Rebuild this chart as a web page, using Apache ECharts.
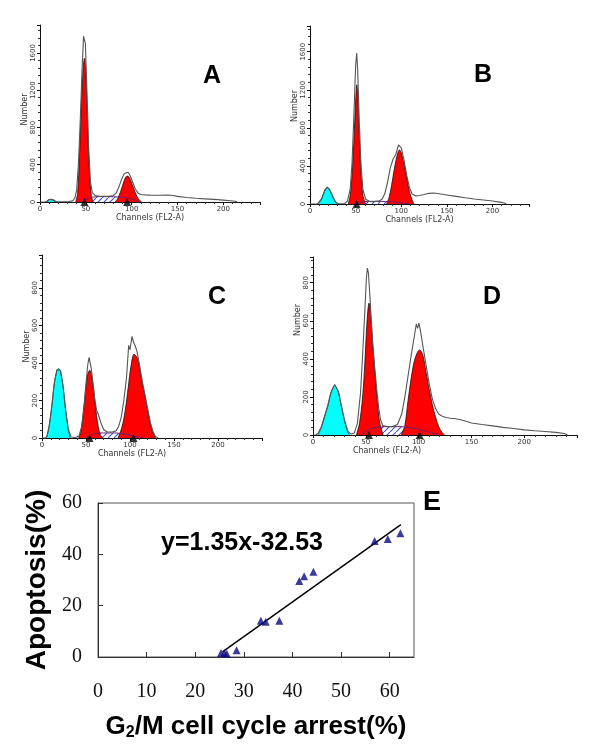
<!DOCTYPE html>
<html><head><meta charset="utf-8">
<script src="https://cdn.jsdelivr.net/npm/echarts@6/dist/echarts.min.js"></script>
<style>html,body{margin:0;padding:0;background:#fff}#c{width:600px;height:756px}</style>
</head><body><div id="c"></div><script>
// ---------- Panel A (channel, count) ----------
const A_cyan = [[7,0],[9,18],[11,30],[13,28],[15,14],[17,0]];
const A_g1 = [[39,0],[41,90],[43,480],[45,1000],[47,1420],[48.5,1543],[50,1380],[52,800],[54,300],[56,70],[58,0]];
const A_g2 = [[82,0],[85,40],[88,115],[91,205],[93,258],[95,279],[97,268],[99,228],[102,150],[105,75],[108,25],[111,0]];
const A_s = [[45,0],[50,25],[55,45],[60,55],[70,58],[80,56],[90,50],[100,35],[105,15],[110,0]];
const A_raw = [[0,0],[6,0],[8,8],[10,26],[12,32],[14,26],[16,10],[18,2],[25,3],[32,5],[36,15],[38,40],[40,130],[42,420],[44,900],[46,1450],[47.5,1780],[48.5,1794],[49.5,1700],[51,1250],[53,600],[55,220],[57,100],[60,70],[65,62],[70,60],[75,62],[80,68],[83,95],[86,160],[89,245],[92,305],[94,326],[96,320],[98,290],[101,215],[104,140],[107,95],[110,80],[115,76],[120,74],[130,72],[140,75],[145,70],[150,60],[160,48],[170,40],[180,34],[190,28],[200,20],[208,14],[213,8],[215,0]];
const A_marks = [48.5, 95];
// ---------- Panel B ----------
const B_cyan = [[9,0],[12,40],[15,110],[17,155],[19,175],[21,160],[24,105],[27,40],[30,0]];
const B_g1 = [[42,0],[44,90],[46,300],[48,640],[50,1080],[51.3,1253],[52.5,1100],[54,700],[56,300],[58,90],[61,0]];
const B_g2 = [[84,0],[87,80],[90,230],[93,400],[96,530],[98,568],[100,540],[103,420],[106,270],[109,130],[112,40],[114,0]];
const B_s = [[50,0],[55,15],[60,25],[70,28],[80,27],[90,22],[100,12],[110,0]];
const B_raw = [[0,0],[8,0],[10,10],[13,60],[16,140],[19,178],[22,140],[25,70],[28,20],[31,3],[38,5],[41,30],[44,150],[46,420],[48,900],[50,1450],[51.2,1586],[52.3,1400],[54,850],[56,400],[58,150],[61,50],[65,28],[70,25],[75,30],[79,50],[82,110],[85,230],[88,380],[91,470],[94,520],[97,620],[98.5,628],[100,590],[103,460],[106,300],[109,170],[112,105],[116,85],[120,90],[125,100],[130,112],[135,116],[140,110],[150,95],[160,80],[170,65],[180,52],[190,42],[200,32],[208,20],[213,10],[215,0]];
const B_marks = [51];
// ---------- Panel C ----------
const C_cyan = [[5,0],[8,60],[11,160],[14,290],[17,360],[19,370],[21,355],[24,270],[27,140],[30,40],[32,0]];
const C_g1 = [[41.7,0],[44,30],[46,90],[48,175],[50,270],[52,340],[54.2,361],[56,340],[58,280],[60,200],[62,120],[64,60],[66,20],[69.3,0]];
const C_g2 = [[86.4,0],[89,30],[92,80],[95,160],[98,270],[101,380],[104.5,446],[108,430],[111,370],[114,290],[117,225],[120,150],[123,80],[126,30],[128.8,0]];
const C_s = [[50,0],[55,15],[60,24],[70,27],[80,27],[90,24],[100,15],[110,5],[115,0]];
const C_raw = [[0,0],[4,0],[6,15],[8,60],[11,165],[14,295],[17,365],[19,375],[21,360],[24,275],[27,145],[30,45],[33,5],[38,3],[42,10],[45,60],[48,185],[50,290],[52,390],[53.5,430],[54.5,435],[56,370],[58,290],[60,205],[62,150],[64,125],[65.5,120],[67,80],[70,45],[74,32],[80,32],[84,38],[87,60],[90,110],[93,200],[96,320],[98.5,494],[100,470],[102.3,542],[104,510],[106,490],[108,460],[111,385],[114,300],[117,230],[120,155],[123,85],[126,35],[129,8],[132,0]];
const C_marks = [54, 104];
// ---------- Panel D ----------
const D_cyan = [[4.7,0],[8,40],[11,95],[14,150],[17,220],[20.5,260],[24,225],[27,145],[30,70],[33,15],[34.7,0]];
const D_g1 = [[41,0],[44,60],[47,200],[49,370],[51,580],[53,693],[55,600],[57,440],[59,300],[61,170],[63,70],[66.3,0]];
const D_g2 = [[83.6,0],[87,50],[90,180],[93,300],[96,390],[99,435],[101,447],[104,420],[107,330],[110,240],[113,160],[116,95],[119,45],[122,15],[124.7,0]];
const D_s = [[45,0],[50,20],[55,33],[60,40],[70,44],[80,44],[90,40],[100,30],[110,15],[120,0]];
const D_raw = [[0,0],[3,0],[5,10],[8,45],[11,100],[14,155],[17,225],[20.5,265],[24,230],[27,150],[30,75],[33,20],[36,5],[39,10],[42,60],[45,220],[47,420],[49,640],[50.5,820],[51.5,877],[52.5,850],[54,720],[56,520],[58,380],[60,260],[62,150],[64,80],[66,50],[70,44],[75,44],[80,55],[84,110],[87,200],[90,310],[93,420],[96,520],[97.8,584],[99,560],[100.3,588],[102,540],[104,470],[107,370],[110,270],[113,190],[116,140],[119,110],[122,100],[126,92],[130,88],[135,85],[140,80],[145,72],[150,63],[160,55],[170,48],[180,40],[190,34],[200,27],[210,22],[220,18],[230,14],[238,8],[241,0]];
const D_marks = [53, 101];
// ---------- Panel E ----------
const E_g2m = [25.3, 26.0, 26.5, 28.5, 33.5, 34.5, 37.3, 41.4, 42.4, 44.3, 56.9, 59.6, 62.2];
const E_apop = [1.6, 1.6, 1.3, 2.6, 14.1, 13.7, 14.1, 29.6, 31.5, 33.2, 45.2, 46.0, 48.2];
const E_fit = [[25.6, 2.0], [62.3, 51.6]];
const E_equation = 'y=1.35x-32.53';

const hatch = (function () {
  const c = document.createElement('canvas'); c.width = 6; c.height = 6;
  const g = c.getContext('2d');
  g.strokeStyle = '#3b4fd6'; g.lineWidth = 1.1;
  g.beginPath(); g.moveTo(-1, 7); g.lineTo(7, -1); g.stroke();
  return c;
})();

const panels = [
  {grid: {left: 40, top: 25, width: 220, height: 177}, xMax: 240, yMax: 1900, yInt: 400,
   cyan: A_cyan, g1: A_g1, g2: A_g2, s: A_s, raw: A_raw, marks: A_marks, yNamePad: 8, xNamePad: 0},
  {grid: {left: 310, top: 26, width: 219, height: 178}, xMax: 240, yMax: 1870, yInt: 400,
   cyan: B_cyan, g1: B_g1, g2: B_g2, s: B_s, raw: B_raw, marks: B_marks, yNamePad: 18, xNamePad: 0},
  {grid: {left: 42, top: 255, width: 220, height: 183}, xMax: 250, yMax: 975, yInt: 200,
   cyan: C_cyan, g1: C_g1, g2: C_g2, s: C_s, raw: C_raw, marks: C_marks, yNamePad: 0, xNamePad: 40},
  {grid: {left: 313, top: 257, width: 264, height: 178}, xMax: 250, yMax: 935, yInt: 200,
   cyan: D_cyan, g1: D_g1, g2: D_g2, s: D_s, raw: D_raw, marks: D_marks, yNamePad: 52, xNamePad: 116}
];

const plain = function (v) { return String(v); };
const grids = [], xAxes = [], yAxes = [], series = [];
const small = {fontFamily: 'DejaVu Sans', color: '#333'};
panels.forEach(function (p, i) {
  grids.push(Object.assign({outerBoundsMode: 'none', containLabel: false}, p.grid));
  xAxes.push({
    gridIndex: i, type: 'value', min: 0, max: p.xMax, interval: 50,
    name: 'Channels (FL2-A)', nameLocation: 'middle', nameGap: 12,
    nameTextStyle: Object.assign({fontSize: 8, padding: [0, p.xNamePad, 0, 0]}, small),
    axisLine: {show: true, onZero: false, lineStyle: {color: '#111', width: 1}},
    axisTick: {show: true, length: 3, lineStyle: {color: '#111'}},
    minorTick: {show: true, splitNumber: 5, length: 2, lineStyle: {color: '#333'}},
    axisLabel: Object.assign({fontSize: 7, margin: 4, showMaxLabel: false, formatter: plain}, small),
    splitLine: {show: false}
  });
  yAxes.push({
    gridIndex: i, type: 'value', min: 0, max: p.yMax, interval: p.yInt,
    name: 'Number', nameLocation: 'middle', nameGap: 11, nameRotate: 90,
    nameTextStyle: Object.assign({fontSize: 8, padding: [0, 0, 0, p.yNamePad]}, small),
    axisLine: {show: true, lineStyle: {color: '#111', width: 1}},
    axisTick: {show: true, length: 3, lineStyle: {color: '#111'}},
    minorTick: {show: true, splitNumber: 5, length: 2, lineStyle: {color: '#333'}},
    axisLabel: Object.assign({fontSize: 7, margin: 3, rotate: 90, showMaxLabel: false, formatter: plain}, small),
    splitLine: {show: false}
  });
  const base = {xAxisIndex: i, yAxisIndex: i, type: 'line', showSymbol: false, symbol: 'none', silent: true};
  series.push(Object.assign({}, base, {name: 'S-phase area', data: p.s, smooth: 0.4, z: 1,
    lineStyle: {width: 0}, areaStyle: {color: {image: hatch, repeat: 'repeat'}, opacity: 1}}));
  series.push(Object.assign({}, base, {name: 'Sub-G1', data: p.cyan, smooth: 0.3, z: 2,
    lineStyle: {color: '#1d3a4a', width: 0.8}, areaStyle: {color: '#00ffff', opacity: 1}}));
  series.push(Object.assign({}, base, {name: 'G0/G1', data: p.g1, smooth: 0.3, z: 2,
    lineStyle: {color: '#111', width: 0.8}, areaStyle: {color: '#ff0000', opacity: 1}}));
  series.push(Object.assign({}, base, {name: 'G2/M', data: p.g2, smooth: 0.3, z: 2,
    lineStyle: {color: '#111', width: 0.8}, areaStyle: {color: '#ff0000', opacity: 1}}));
  series.push(Object.assign({}, base, {name: 'S-phase fit', data: p.s, smooth: 0.4, z: 3,
    lineStyle: {color: '#6a1f6e', width: 1}}));
  series.push(Object.assign({}, base, {name: 'Data', data: p.raw, z: 4,
    lineStyle: {color: '#555', width: 1.1}}));
  series.push({name: 'Peak marks', type: 'scatter', xAxisIndex: i, yAxisIndex: i, silent: true, clip: false, z: 5,
    symbol: 'triangle', symbolSize: [8, 8], itemStyle: {color: '#000'},
    data: p.marks.map(function (c) { return [c, 0]; })});
});

// Panel E
grids.push({left: 98, top: 503, width: 316, height: 154, outerBoundsMode: 'none', containLabel: false,
  show: true, borderColor: '#555', borderWidth: 1});
const serif = {fontFamily: 'Liberation Serif', color: '#111', fontSize: 20};
const boldSans = {fontFamily: 'Liberation Sans', fontWeight: 'bold', color: '#000'};
xAxes.push({
  gridIndex: 4, type: 'value', min: 0, max: 65, interval: 10,
  name: '{a|G}{b|2}{a|/M cell cycle arrest(%)}', nameLocation: 'middle', nameGap: 56,
  nameTextStyle: {rich: {
    a: Object.assign({fontSize: 26}, boldSans),
    b: Object.assign({fontSize: 16, padding: [12, 0, 0, 0]}, boldSans)
  }},
  axisLine: {show: true, onZero: false, lineStyle: {color: '#333', width: 1}},
  axisTick: {show: true, inside: true, length: 5, lineStyle: {color: '#333'}},
  axisLabel: Object.assign({margin: 25, showMaxLabel: false}, serif),
  splitLine: {show: false}
});
yAxes.push({
  gridIndex: 4, type: 'value', min: 0, max: 60, interval: 20,
  name: 'Apoptosis(%)', nameLocation: 'middle', nameGap: 40, nameRotate: 90,
  nameTextStyle: Object.assign({fontSize: 28}, boldSans),
  axisLine: {show: true, lineStyle: {color: '#333', width: 1}},
  axisTick: {show: true, inside: true, length: 5, lineStyle: {color: '#333'}},
  axisLabel: Object.assign({margin: 16}, serif),
  splitLine: {show: false}
});
series.push({name: 'Regression', type: 'line', xAxisIndex: 4, yAxisIndex: 4, data: E_fit, showSymbol: false, symbol: 'none',
  lineStyle: {color: '#000', width: 1.5}, z: 2, silent: true});
series.push({name: 'Samples', type: 'scatter', xAxisIndex: 4, yAxisIndex: 4, symbol: 'triangle', symbolSize: 8,
  itemStyle: {color: '#0a0a80'}, z: 3, clip: false,
  data: E_g2m.map(function (x, k) { return [x, E_apop[k]]; })});

const letter = function (t, x, y, size) {
  return {type: 'text', x: x, y: y, style: {text: t, fill: '#000', font: 'bold ' + size + 'px "Liberation Sans"', textAlign: 'center', textVerticalAlign: 'middle'}};
};

const chart = echarts.init(document.getElementById('c'), null, {renderer: 'canvas'});
chart.setOption({
  animation: false,
  backgroundColor: '#fff',
  grid: grids, xAxis: xAxes, yAxis: yAxes, series: series,
  graphic: [
    letter('A', 212, 76, 25), letter('B', 483, 75, 25), letter('C', 217, 297, 25), letter('D', 492, 297, 25),
    letter('E', 432, 503, 27),
    {type: 'text', x: 242, y: 543, style: {text: E_equation, fill: '#000', font: 'bold 25px "Liberation Sans"', textAlign: 'center', textVerticalAlign: 'middle'}}
  ]
});
</script></body></html>
